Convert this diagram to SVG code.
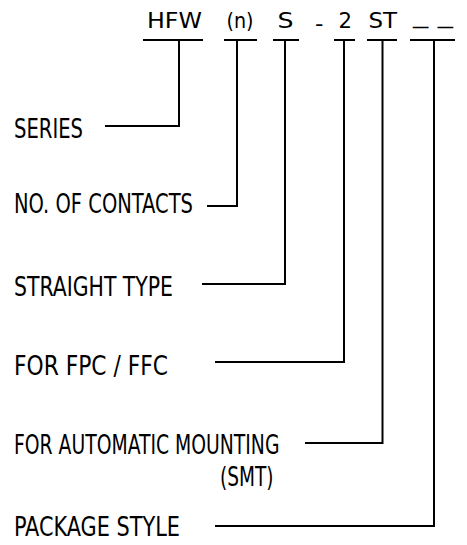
<svg xmlns="http://www.w3.org/2000/svg" width="467" height="545" viewBox="0 0 467 545">
<style>
text{font-family:"Liberation Sans Narrow","DejaVu Sans Condensed","Liberation Sans",sans-serif;fill:#000}
.top{font-size:22px}
.lbl{font-size:26px}
.ln{fill:none;stroke:#000;stroke-width:2}
</style>
<rect width="467" height="545" fill="#fff"/>
<g id="code">
<text class="top" x="147" y="27.5" textLength="55" lengthAdjust="spacingAndGlyphs">HFW</text>
<text class="top" x="226.5" y="27.5" textLength="27" lengthAdjust="spacingAndGlyphs">(n)</text>
<text class="top" x="277.5" y="27.5" textLength="16" lengthAdjust="spacingAndGlyphs">S</text>
<text class="top" x="315" y="31" textLength="8.5" lengthAdjust="spacingAndGlyphs">-</text>
<text class="top" x="338.5" y="27.5" textLength="13.5" lengthAdjust="spacingAndGlyphs">2</text>
<text class="top" x="368.5" y="27.5" textLength="28.5" lengthAdjust="spacingAndGlyphs">ST</text>
<text class="top" x="413" y="23" textLength="40" lengthAdjust="spacingAndGlyphs">_ _</text>
</g>
<g id="underlines">
<path class="ln" d="M143 40H203M224 40H257M273 40H299M334 40H355M367 40H397M410 40H455"/>
</g>
<g id="series"><text class="lbl" x="14" y="138" textLength="69" lengthAdjust="spacingAndGlyphs">SERIES</text></g>
<g id="contacts"><text class="lbl" x="14" y="213" textLength="179" lengthAdjust="spacingAndGlyphs">NO. OF CONTACTS</text></g>
<g id="straight"><text class="lbl" x="14" y="296" textLength="159" lengthAdjust="spacingAndGlyphs">STRAIGHT TYPE</text></g>
<g id="fpc"><text class="lbl" x="14" y="375" textLength="154" lengthAdjust="spacingAndGlyphs">FOR FPC / FFC</text></g>
<g id="smt">
<text class="lbl" x="14" y="454" textLength="265.5" lengthAdjust="spacingAndGlyphs">FOR AUTOMATIC MOUNTING</text>
<text class="lbl" x="220" y="486" textLength="53.5" lengthAdjust="spacingAndGlyphs">(SMT)</text>
</g>
<g id="package"><text class="lbl" x="14" y="536" textLength="166" lengthAdjust="spacingAndGlyphs">PACKAGE STYLE</text></g>
<g id="connectors">
<path class="ln" d="M179 40V126H105"/>
<path class="ln" d="M237 40V206H207"/>
<path class="ln" d="M285 40V284H202"/>
<path class="ln" d="M344 40V362H215"/>
<path class="ln" d="M382.5 40V443H305"/>
<path class="ln" d="M434 40V526H215"/>
</g>
</svg>
